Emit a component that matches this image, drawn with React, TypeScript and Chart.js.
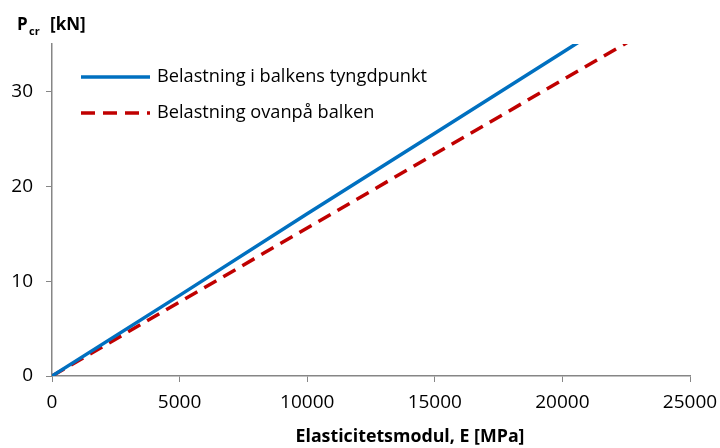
import React, { useEffect, useRef } from "react";
import { Chart, registerables } from "chart.js";

Chart.register(...registerables);

const modulusE = [0, 5000, 10000, 15000, 20000, 25000];
const loadCentroid = [0, 8.5, 17.1, 25.6, 34.1, 42.7];
const loadTop = [0, 7.8, 15.6, 23.4, 31.2, 39.0];
const xTicks = [0, 5000, 10000, 15000, 20000, 25000];
const yTicks = [0, 10, 20, 30];
const seriesLabels = ["Belastning i balkens tyngdpunkt", "Belastning ovanpå balken"];
const xTitle = "Elasticitetsmodul, E [MPa]";

const FONT = "'Open Sans', Lato, sans-serif";
const AXIS_GREY = "#868686";

const customPlugin = {
  id: "custom",
  afterDraw(chart: any) {
    const ctx = chart.ctx;
    ctx.save();
    // y title P_cr [kN]
    ctx.fillStyle = "#000";
    ctx.textBaseline = "alphabetic";
    ctx.textAlign = "left";
    ctx.font = `bold 17px ${FONT}`;
    ctx.fillText("P", 17, 30);
    ctx.font = `bold 11px ${FONT}`;
    ctx.fillText("cr", 29, 35);
    ctx.font = `bold 17px ${FONT}`;
    ctx.fillText("[kN]", 50, 30);
    // x title
    ctx.font = `bold 17.8px ${FONT}`;
    ctx.textAlign = "center";
    ctx.textBaseline = "middle";
    ctx.fillText(xTitle, 410, 437);
    // legend
    ctx.textAlign = "left";
    const ys = [77, 113];
    chart.data.datasets.forEach((ds: any, i: number) => {
      ctx.beginPath();
      ctx.strokeStyle = ds.borderColor;
      ctx.lineWidth = 3.5;
      ctx.setLineDash(ds.borderDash || []);
      ctx.lineCap = "butt";
      ctx.moveTo(81, ys[i]);
      ctx.lineTo(150, ys[i]);
      ctx.stroke();
      ctx.setLineDash([]);
      ctx.fillStyle = "#000";
      ctx.font = `18.2px ${FONT}`;
      ctx.textBaseline = "middle";
      ctx.fillText(ds.label, 157, ys[i]);
    });
    ctx.restore();
  },
};

export default function App() {
  const ref = useRef<HTMLCanvasElement | null>(null);
  useEffect(() => {
    document.body.style.margin = "0";
    const canvas = ref.current!;
    const chart = new Chart(canvas, {
      type: "line",
      data: {
        datasets: [
          {
            label: seriesLabels[0],
            data: modulusE.map((x, i) => ({ x, y: loadCentroid[i] })),
            borderColor: "#0070C0",
            borderWidth: 3.5,
            pointRadius: 0,
            tension: 0,
          },
          {
            label: seriesLabels[1],
            data: modulusE.map((x, i) => ({ x, y: loadTop[i] })),
            borderColor: "#C00000",
            borderWidth: 3.5,
            borderDash: [14, 8],
            pointRadius: 0,
            tension: 0,
          },
        ],
      },
      options: {
        animation: false,
        responsive: false,
        maintainAspectRatio: false,
        layout: { padding: { top: 44, right: 30, left: 0, bottom: 0 } },
        plugins: { legend: { display: false }, tooltip: { enabled: false } },
        scales: {
          x: {
            type: "linear",
            min: 0,
            max: 25000,
            afterFit(scale: any) {
              scale.height = 72;
              scale.paddingLeft = 0;
              scale.paddingRight = 0;
            },
            afterBuildTicks(scale: any) {
              scale.ticks = xTicks.map((v) => ({ value: v }));
            },
            ticks: {
              color: "#000",
              font: { family: FONT, size: 19 },
              padding: 9,
              maxRotation: 0,
              callback: (v: any) => String(v),
            },
            grid: {
              drawOnChartArea: false,
              drawTicks: true,
              tickLength: 6,
              color: AXIS_GREY,
            },
            border: { color: AXIS_GREY, width: 1.5 },
          },
          y: {
            type: "linear",
            min: 0,
            max: 35,
            afterFit(scale: any) {
              scale.width = 52;
              scale.paddingTop = 0;
              scale.paddingBottom = 0;
            },
            afterBuildTicks(scale: any) {
              scale.ticks = yTicks.map((v) => ({ value: v }));
            },
            ticks: {
              color: "#000",
              font: { family: FONT, size: 19 },
              padding: 13,
              callback: (v: any) => String(v),
            },
            grid: {
              drawOnChartArea: false,
              drawTicks: true,
              tickLength: 6,
              color: AXIS_GREY,
            },
            border: { color: AXIS_GREY, width: 1.5 },
          },
        },
      },
      plugins: [customPlugin],
    } as any);
    return () => chart.destroy();
  }, []);
  return (
    <div style={{ width: 720, height: 448, background: "#fff" }}>
      <canvas ref={ref} width={720} height={448} style={{ display: "block" }} />
    </div>
  );
}
